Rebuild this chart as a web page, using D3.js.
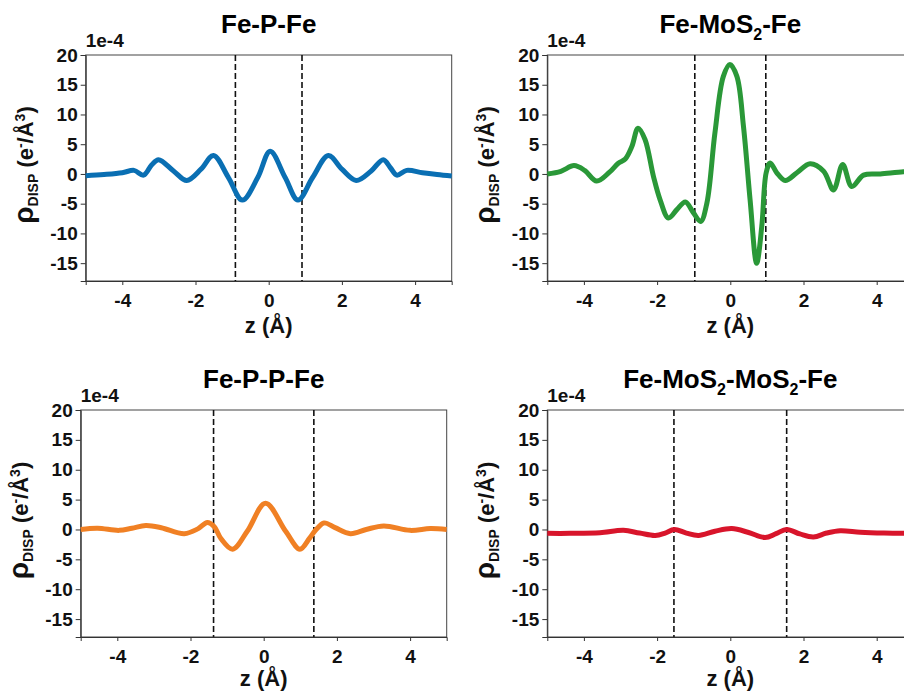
<!DOCTYPE html>
<html>
<head>
<meta charset="utf-8">
<script src="https://cdn.jsdelivr.net/npm/d3@7"></script>
<style>
  body { margin: 0; background: #fff; }
  svg { display: block; font-family: "Liberation Sans", Arial, sans-serif; font-weight: bold; }
</style>
</head>
<body>
<svg id="chart" width="904" height="692"></svg>
<script>
// z positions (Å) and displacement density values (×1e-4 e-/Å3)
const zFePFe   = [-5, -4.5, -4, -3.68, -3.42, -3.2, -3.01, -2.6, -2.24, -1.85, -1.51, -1.1, -0.72, -0.3, 0.04, 0.45, 0.8, 1.2, 1.63, 2.0, 2.39, 2.8, 3.13, 3.33, 3.5, 3.77, 4.2, 4.6, 5];
const rhoFePFe = [-0.3, -0.1, 0.2, 0.6, -0.2, 1.5, 2.4, 0.5, -1.1, 0.8, 3.1, -0.6, -4.4, -0.6, 3.8, -0.6, -4.4, -0.6, 3.1, 0.8, -1.1, 0.5, 2.4, 1.0, -0.2, 0.6, 0.2, -0.1, -0.35];

const zFeMoS2Fe   = [-5, -4.63, -4.27, -3.98, -3.65, -3.3, -3.06, -2.87, -2.69, -2.52, -2.33, -2.1, -1.92, -1.69, -1.46, -1.23, -1.01, -0.81, -0.64, -0.42, -0.19, -0.01, 0.18, 0.36, 0.54, 0.72, 0.86, 0.98, 1.09, 1.27, 1.5, 1.82, 2.18, 2.55, 2.82, 3.07, 3.32, 3.64, 4.1, 4.73, 5];
const rhoFeMoS2Fe = [0, 0.45, 1.4, 0.6, -1.2, 0.3, 1.8, 2.5, 4.6, 7.7, 5.8, -0.4, -4.3, -7.4, -6.0, -4.7, -6.5, -8.0, -4.9, 6.9, 16.4, 18.4, 16.4, 8.0, -4.3, -15.0, -8.8, 0.2, 1.85, 0.2, -1.1, 0.2, 1.7, 0.45, -2.7, 1.6, -2.1, -0.2, 0.0, 0.35, 0.4];

const zFePPFe   = [-5, -4.54, -3.95, -3.6, -3.22, -2.8, -2.17, -1.8, -1.54, -1.35, -1.17, -0.85, -0.45, 0.05, 0.6, 0.99, 1.25, 1.42, 1.65, 1.95, 2.37, 2.8, 3.28, 4.0, 4.55, 5];
const rhoFePPFe = [0, 0.2, -0.15, 0.2, 0.65, 0.3, -0.7, 0.1, 1.15, 0.45, -1.5, -3.3, -0.3, 4.4, -0.3, -3.3, -1.5, -0.1, 1.1, 0.3, -0.7, 0.0, 0.6, -0.15, 0.15, 0];

const zFeMoS2MoS2Fe   = [-5, -4.38, -3.56, -2.92, -2.48, -2.05, -1.78, -1.53, -1.2, -0.87, -0.42, 0.04, 0.5, 0.95, 1.25, 1.54, 1.9, 2.27, 2.63, 3.0, 3.55, 4.2, 4.73, 5];
const rhoFeMoS2MoS2Fe = [-0.65, -0.65, -0.55, -0.15, -0.6, -1.0, -0.6, 0, -0.6, -1.0, -0.3, 0.15, -0.5, -1.35, -0.7, 0, -0.75, -1.25, -0.6, -0.2, -0.45, -0.6, -0.65, -0.65];

const titles   = [['Fe-P-Fe'], ['Fe-MoS', '2', '-Fe'], ['Fe-P-P-Fe'], ['Fe-MoS', '2', '-MoS', '2', '-Fe']];
const colors   = ['#0a6fb3', '#2a9838', '#f08024', '#d8152b'];
const dashedZ  = [0.91, 0.97, 1.37, 1.54];
const xTicks   = [-4, -2, 0, 2, 4];
const yTicks   = [-15, -10, -5, 0, 5, 10, 15, 20];

const series = [
  [zFePFe, rhoFePFe],
  [zFeMoS2Fe, rhoFeMoS2Fe],
  [zFePPFe, rhoFePPFe],
  [zFeMoS2MoS2Fe, rhoFeMoS2MoS2Fe]
];

// panel boxes (plot areas)
const panels = [
  { left: 85.7,  top: 55,  w: 366, h: 226, titleY: 33,  xlab: 52 },
  { left: 547.3, top: 55,  w: 366, h: 226, titleY: 33,  xlab: 52 },
  { left: 80.7,  top: 410, w: 366, h: 227, titleY: 388, xlab: 49 },
  { left: 547.3, top: 410, w: 366, h: 227, titleY: 388, xlab: 49 }
];

const svg = d3.select('#chart');

panels.forEach((p, i) => {
  const g = svg.append('g').attr('transform', `translate(${p.left},${p.top})`);
  const x = d3.scaleLinear().domain([-5, 5]).range([0, p.w]);
  const y = d3.scaleLinear().domain([-18, 20]).range([p.h, 0]);

  // frame
  g.append('rect')
    .attr('width', p.w).attr('height', p.h)
    .attr('fill', 'none').attr('stroke', '#444').attr('stroke-width', 1);

  // axes
  const xAxis = g.append('g').attr('transform', `translate(0,${p.h})`)
    .call(d3.axisBottom(x).tickValues(xTicks).tickSize(4).tickPadding(5).tickFormat(d => d));
  const yAxis = g.append('g')
    .call(d3.axisLeft(y).tickValues(yTicks).tickSize(5).tickPadding(3).tickFormat(d => d));
  [xAxis, yAxis].forEach(a => {
    a.select('.domain').attr('stroke', '#333');
    a.selectAll('.tick line').attr('stroke', '#333');
    a.selectAll('.tick text')
      .attr('fill', '#111').attr('font-size', 19).attr('font-weight', 'bold')
      .attr('font-family', '"Liberation Sans", Arial, sans-serif');
  });
  xAxis.selectAll('.tick text').attr('dy', '0.9em');

  // dashed boundaries
  [-dashedZ[i], dashedZ[i]].forEach(z => {
    g.append('line')
      .attr('x1', x(z)).attr('x2', x(z)).attr('y1', 0).attr('y2', p.h)
      .attr('stroke', '#111').attr('stroke-width', 1.6).attr('stroke-dasharray', '6,3');
  });

  // curve
  const [zs, rs] = series[i];
  const line = d3.line()
    .x((d, k) => x(zs[k]))
    .y(d => y(d))
    .curve(d3.curveCatmullRom.alpha(0.5));
  g.append('path')
    .attr('d', line(rs))
    .attr('fill', 'none')
    .attr('stroke', colors[i])
    .attr('stroke-width', 5)
    .attr('stroke-linejoin', 'round')
    .attr('stroke-linecap', 'butt');

  // 1e-4 offset
  g.append('text').attr('x', 0).attr('y', -8)
    .attr('font-size', 19).attr('fill', '#111').text('1e-4');

  // title
  const t = svg.append('text')
    .attr('x', p.left + p.w / 2).attr('y', p.titleY)
    .attr('text-anchor', 'middle').attr('font-size', 26).attr('fill', '#000');
  titles[i].forEach((s, k) => {
    if (s === '2') {
      t.append('tspan').attr('font-size', 16).attr('dy', 7).text(s);
    } else {
      const ts = t.append('tspan').text(s);
      if (k > 0) ts.attr('dy', -7);
    }
  });

  // x label
  svg.append('text')
    .attr('x', p.left + p.w / 2).attr('y', p.top + p.h + p.xlab)
    .attr('text-anchor', 'middle').attr('font-size', 22).attr('fill', '#111')
    .text('z (Å)');

  // y label
  const yl = svg.append('text')
    .attr('transform', `translate(${p.left - 53},${p.top + p.h / 2 - 3}) rotate(-90)`)
    .attr('text-anchor', 'middle').attr('font-size', 22).attr('fill', '#111');
  yl.append('tspan').attr('font-size', 28).text('ρ');
  yl.append('tspan').attr('font-size', 14).attr('dy', 5).text('DISP');
  yl.append('tspan').attr('dy', -5).text(' (e');
  yl.append('tspan').attr('font-size', 14).attr('dy', -8).text('-');
  yl.append('tspan').attr('dy', 8).text('/Å');
  yl.append('tspan').attr('font-size', 14).attr('dy', -8).text('3');
  yl.append('tspan').attr('dy', 8).text(')');
});
</script>
</body>
</html>
